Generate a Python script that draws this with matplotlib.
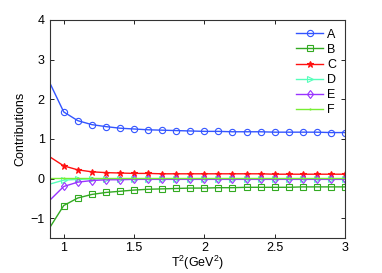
import matplotlib
matplotlib.use('Agg')
import matplotlib.pyplot as plt

plt.rcParams['font.family'] = ['Liberation Sans', 'DejaVu Sans']
plt.rcParams['mathtext.fontset'] = 'custom'
plt.rcParams['mathtext.rm'] = 'Liberation Sans'

# T^2 grid (GeV^2)
t2 = [0.9, 1.0, 1.1, 1.2, 1.3, 1.4, 1.5, 1.6, 1.7, 1.8, 1.9, 2.0,
      2.1, 2.2, 2.3, 2.4, 2.5, 2.6, 2.7, 2.8, 2.9, 3.0]

a_vals = [2.42, 1.68, 1.46, 1.36, 1.31, 1.27, 1.25, 1.23, 1.22, 1.21, 1.20, 1.19,
          1.19, 1.18, 1.18, 1.18, 1.17, 1.17, 1.17, 1.17, 1.16, 1.16]
b_vals = [-1.24, -0.68, -0.49, -0.40, -0.35, -0.32, -0.29, -0.27, -0.26, -0.25, -0.24, -0.24,
          -0.23, -0.23, -0.22, -0.22, -0.22, -0.22, -0.21, -0.21, -0.21, -0.21]
c_vals = [0.55, 0.32, 0.22, 0.17, 0.15, 0.14, 0.13, 0.13, 0.12, 0.12, 0.12, 0.12,
          0.12, 0.12, 0.12, 0.12, 0.11, 0.11, 0.11, 0.11, 0.11, 0.11]
d_vals = [-0.14, -0.04, -0.02, -0.01, -0.01, -0.01, -0.01, -0.01, -0.01, -0.01, -0.01, -0.01,
          -0.01, -0.01, -0.01, -0.01, -0.01, -0.01, -0.01, -0.01, -0.01, -0.01]
e_vals = [-0.55, -0.20, -0.09, -0.05, -0.03, -0.03, -0.02, -0.02, -0.02, -0.02, -0.02, -0.02,
          -0.02, -0.02, -0.02, -0.02, -0.02, -0.02, -0.02, -0.02, -0.02, -0.02]
f_vals = [0.01] * len(t2)

series = [
    ('A', a_vals, '#3355ff', 'o', 4.5),
    ('B', b_vals, '#33aa22', 's', 4.0),
    ('C', c_vals, '#ff1111', '*', 4.5),
    ('D', d_vals, '#55ffbb', '>', 4.5),
    ('E', e_vals, '#9933ff', 'd', 4.5),
    ('F', f_vals, '#77ee33', '.', 1.5),
]

fig = plt.figure(figsize=(3.82, 2.73), dpi=100)
ax = fig.add_axes([0.13, 0.128, 0.773, 0.799])

for name, vals, col, mk, ms in series:
    ax.plot(t2, vals, color=col, lw=1.0, marker=mk, markevery=slice(1, None),
            ms=ms, mfc='none' if mk not in ('*', '.') else col,
            mec=col, mew=0.8, label=name)

ax.set_xlim(0.9, 3)
ax.set_ylim(-1.5, 4)
ax.set_xticks([1, 1.5, 2, 2.5, 3])
ax.set_xticklabels(['1', '1.5', '2', '2.5', '3'])
ax.set_yticks([-1, 0, 1, 2, 3, 4])
ax.tick_params(direction='in', top=True, right=True, labelsize=9, length=3, width=0.6)
ax.tick_params(axis='x', pad=2.5)
for sp in ax.spines.values():
    sp.set_linewidth(0.8)
    sp.set_color('#333333')

ax.set_xlabel(r'T$^2$(GeV$^2$)', fontsize=9, labelpad=0)
ax.set_ylabel('Contributions', fontsize=9, labelpad=3)

ax.legend(loc='upper right', frameon=False, fontsize=9, handlelength=2.2,
          labelspacing=0.25, handletextpad=0.3, borderaxespad=0.3)

fig.savefig('out.png', dpi=100)
